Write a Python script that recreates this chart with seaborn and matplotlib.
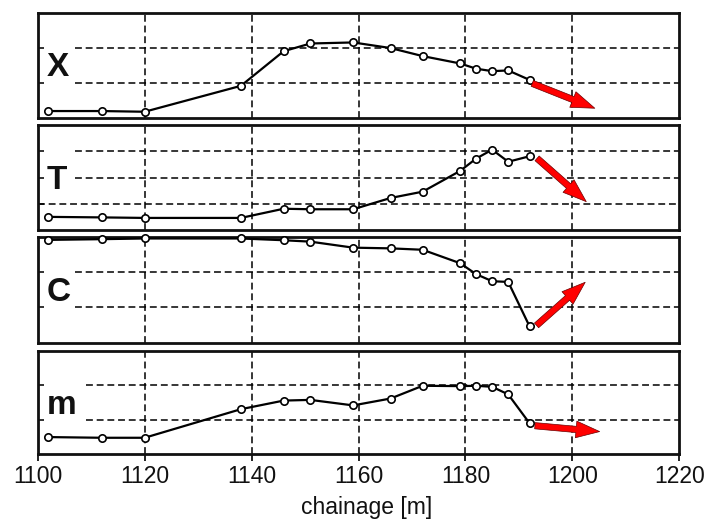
import matplotlib
matplotlib.use('Agg')
import matplotlib.pyplot as plt
import seaborn as sns

# ---------------- data ----------------
chainage = [1102, 1112, 1120, 1138, 1146, 1151, 1159, 1166, 1172, 1179, 1182, 1185, 1188, 1192]
X_vals = [0.19, 0.19, 0.17, 0.91, 1.90, 2.12, 2.15, 1.99, 1.76, 1.55, 1.40, 1.33, 1.35, 1.08]
T_vals = [0.50, 0.48, 0.46, 0.46, 0.81, 0.79, 0.79, 1.22, 1.46, 2.25, 2.72, 3.06, 2.60, 2.81]
C_vals = [2.91, 2.93, 2.95, 2.95, 2.90, 2.86, 2.69, 2.67, 2.63, 2.25, 1.94, 1.74, 1.72, 0.46]
m_vals = [0.50, 0.48, 0.48, 1.31, 1.56, 1.58, 1.42, 1.62, 1.99, 1.98, 1.99, 1.96, 1.74, 0.90]

panel_labels = ['X', 'T', 'C', 'm']
panel_series = [X_vals, T_vals, C_vals, m_vals]
y_max = [3, 4, 3, 3]
h_grid = [[1, 2], [1, 2, 3], [1, 2], [1, 2]]
h_grid_start = [[1107, 1107], [1100, 1107, 1107], [1107, 1107], [1109, 1109]]
label_y = [1.19, 1.55, 1.18, 1.16]
arrow_tail = [(1192.5, 0.98), (1193.4, 2.73), (1193.3, 0.49), (1193.0, 0.83)]
arrow_tip = [(1204.2, 0.27), (1202.6, 1.08), (1202.4, 1.71), (1205.1, 0.66)]

x_ticks = [1100, 1120, 1140, 1160, 1180, 1200, 1220]
v_grid = [1120, 1140, 1160, 1180, 1200]
x_label = 'chainage [m]'

# ---------------- style ----------------
sns.set_style('white')
plt.rcParams['font.family'] = ['Liberation Sans', 'DejaVu Sans']

fig = plt.figure(figsize=(7.11, 5.2), dpi=100)
W, H = 711.0, 520.0
left_px, right_px = 37.7, 679.3
boxes_px = [(12.7, 117.7), (125.0, 230.0), (236.7, 342.7), (351.0, 454.3)]

dash = (0, (4.5, 2.5))
axes = []
for i, (top, bot) in enumerate(boxes_px):
    ax = fig.add_axes([left_px / W, 1 - bot / H, (right_px - left_px) / W, (bot - top) / H])
    axes.append(ax)
    ax.set_xlim(x_ticks[0], x_ticks[-1])
    ax.set_ylim(0, y_max[i])

    for v in v_grid:
        ax.axvline(v, color='black', lw=1.1, ls=dash, zorder=1)
    for y, xs in zip(h_grid[i], h_grid_start[i]):
        ax.hlines(y, xs, x_ticks[-1], color='black', lw=1.1, ls=dash, zorder=1)

    sns.lineplot(x=chainage, y=panel_series[i], ax=ax, estimator=None, legend=False,
                 color='black', lw=1.6, marker='o', markersize=5.3,
                 markerfacecolor='white', markeredgecolor='black', markeredgewidth=1.2,
                 clip_on=False, zorder=5)

    ax.annotate('', xy=arrow_tip[i], xytext=arrow_tail[i],
                arrowprops=dict(arrowstyle='simple,head_length=1.7,head_width=1.2,tail_width=0.45',
                                fc='#ff0000', ec='#6a0000', lw=0.5,
                                shrinkA=0, shrinkB=0, mutation_scale=10),
                annotation_clip=False, zorder=6)

    ax.text(1101.6, label_y[i], panel_labels[i], fontsize=24, fontweight='bold',
            ha='left', va='baseline', color='#111111', zorder=7)

    for s in ax.spines.values():
        s.set_linewidth(2.0)
        s.set_color('#111111')
        s.set_visible(True)

    ax.set_yticks(h_grid[i])
    ax.tick_params(axis='y', direction='in', length=4, width=1.2, left=True,
                   labelleft=False, color='#111111')
    ax.set_xticks(x_ticks)
    ax.set_ylabel('')
    if i < 3:
        ax.tick_params(axis='x', length=0, labelbottom=False)
    else:
        ax.tick_params(axis='x', direction='out', length=5, width=1.3, bottom=True,
                       labelsize=16.5, pad=3, colors='#111111')
        ax.set_xticklabels([str(t) for t in x_ticks])
        ax.set_xlabel(x_label, fontsize=16.5, color='#111111')
        ax.xaxis.set_label_coords(0.5125, -0.40)

fig.savefig('out.png', dpi=100)
